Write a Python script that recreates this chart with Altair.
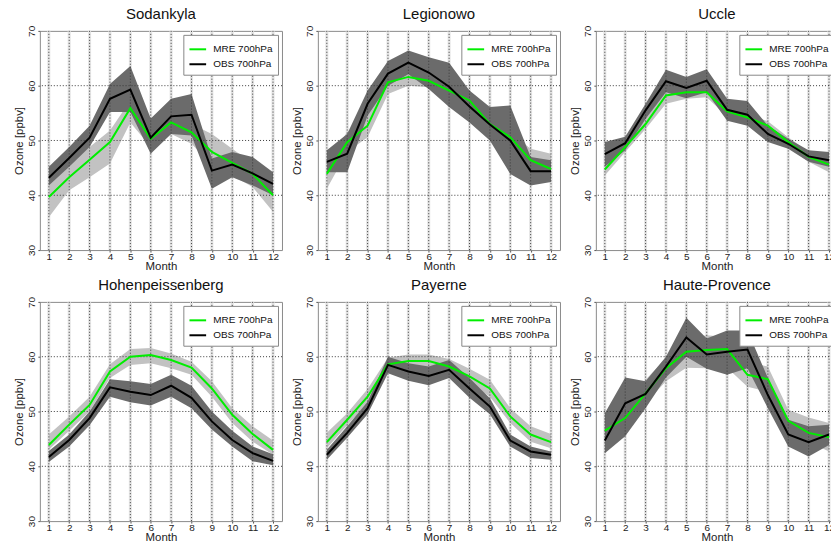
import altair as alt
import pandas as pd

months = list(range(1, 13))

stations = ["Sodankyla", "Legionowo", "Uccle", "Hohenpeissenberg", "Payerne", "Haute-Provence"]
series_names = ["MRE 700hPa", "OBS 700hPa"]

# Sodankyla
sod_obs = [43.2, 46.8, 50.5, 57.6, 59.3, 50.5, 54.4, 54.7, 44.5, 45.6, 44.0, 42.1]
sod_obs_hi = [45.2, 48.8, 52.7, 60.3, 63.6, 54.0, 57.6, 58.5, 46.7, 47.9, 47.0, 44.2]
sod_obs_lo = [41.8, 45.2, 48.8, 55.2, 55.2, 47.6, 51.2, 50.9, 41.2, 43.3, 41.8, 40.0]
sod_mre = [39.7, 43.3, 46.5, 49.7, 55.9, 50.3, 53.3, 51.5, 47.9, 45.9, 43.9, 40.0]
sod_mre_hi = [42.4, 45.8, 48.8, 51.8, 57.3, 51.8, 54.5, 53.0, 51.2, 48.5, 45.8, 41.8]
sod_mre_lo = [36.0, 40.9, 43.3, 45.8, 53.3, 48.8, 51.2, 49.4, 45.5, 43.6, 41.5, 37.0]

# Legionowo
leg_obs = [46.1, 47.6, 56.7, 62.2, 64.2, 62.4, 59.8, 56.2, 52.9, 50.0, 44.4, 44.4]
leg_obs_hi = [48.2, 51.2, 59.1, 64.5, 66.4, 65.2, 64.2, 59.1, 56.1, 56.4, 47.0, 46.4]
leg_obs_lo = [44.2, 44.2, 54.5, 60.0, 62.1, 59.4, 56.1, 53.3, 50.0, 43.9, 41.8, 42.4]
leg_mre = [43.9, 49.7, 52.7, 60.6, 61.6, 60.9, 59.1, 57.3, 53.0, 50.6, 46.4, 44.8]
leg_mre_hi = [46.4, 51.5, 54.5, 61.5, 62.1, 61.8, 60.0, 58.2, 53.9, 51.5, 48.5, 47.6]
leg_mre_lo = [41.2, 47.9, 50.6, 58.5, 60.0, 59.7, 57.9, 56.1, 51.5, 49.4, 44.5, 43.0]

# Uccle
ucc_obs = [47.5, 49.5, 55.5, 60.8, 59.6, 60.9, 55.6, 54.7, 51.2, 49.4, 47.1, 46.4]
ucc_obs_hi = [49.7, 50.7, 56.7, 62.9, 61.6, 63.0, 57.6, 57.2, 52.7, 50.3, 48.2, 47.9]
ucc_obs_lo = [45.2, 48.2, 53.9, 58.8, 57.7, 58.8, 53.6, 52.7, 49.7, 48.5, 46.1, 45.2]
ucc_mre = [44.7, 48.8, 53.0, 58.2, 58.8, 58.8, 55.3, 54.2, 52.7, 49.7, 47.0, 45.6]
ucc_mre_hi = [45.8, 49.7, 53.9, 59.1, 59.6, 59.6, 56.1, 54.8, 53.5, 50.6, 47.9, 46.5]
ucc_mre_lo = [43.6, 47.9, 52.1, 56.7, 57.6, 57.9, 54.4, 53.3, 51.8, 48.8, 46.1, 44.2]

# Hohenpeissenberg
hoh_obs = [41.7, 44.8, 48.8, 54.4, 53.6, 53.0, 54.7, 52.5, 48.2, 44.8, 42.4, 41.0]
hoh_obs_hi = [42.8, 45.8, 50.0, 55.9, 55.5, 55.0, 56.7, 54.7, 50.0, 46.5, 43.6, 42.2]
hoh_obs_lo = [40.8, 43.6, 47.5, 52.7, 51.7, 51.1, 52.7, 50.6, 46.7, 43.6, 40.9, 40.2]
hoh_mre = [43.9, 47.6, 51.2, 57.3, 60.0, 60.3, 59.4, 58.0, 54.2, 49.4, 45.9, 43.0]
hoh_mre_hi = [45.8, 49.1, 52.7, 58.6, 61.4, 61.6, 60.6, 59.1, 55.5, 50.6, 47.3, 44.7]
hoh_mre_lo = [43.0, 46.5, 50.0, 56.1, 58.5, 58.8, 57.9, 56.7, 52.7, 47.9, 44.5, 42.1]

# Payerne
pay_obs = [42.1, 46.1, 50.6, 58.5, 57.3, 56.5, 57.6, 54.2, 50.9, 44.7, 42.7, 42.1]
pay_obs_hi = [43.0, 47.3, 51.8, 60.0, 58.8, 58.2, 59.4, 56.1, 52.4, 45.8, 43.6, 42.7]
pay_obs_lo = [41.2, 45.2, 49.5, 57.0, 55.6, 54.8, 56.1, 52.5, 49.5, 43.6, 41.5, 41.2]
pay_mre = [44.4, 48.5, 52.7, 58.6, 59.2, 59.2, 58.2, 56.4, 54.2, 49.1, 45.8, 44.4]
pay_mre_hi = [46.1, 49.7, 54.1, 59.8, 60.4, 60.4, 59.6, 57.8, 55.8, 50.6, 47.3, 45.9]
pay_mre_lo = [43.3, 47.5, 51.5, 57.3, 57.9, 57.9, 57.0, 55.2, 52.7, 47.9, 44.5, 43.3]

# Haute-Provence
hau_obs = [44.7, 51.5, 53.2, 58.2, 63.5, 60.4, 60.9, 61.3, 53.0, 45.8, 44.4, 45.8]
hau_obs_hi = [49.7, 56.2, 55.5, 60.0, 67.1, 63.3, 64.8, 64.8, 56.1, 48.5, 47.3, 47.6]
hau_obs_lo = [42.4, 45.5, 50.6, 56.2, 60.0, 57.8, 56.7, 57.9, 50.6, 43.6, 41.8, 43.9]
hau_mre = [46.5, 48.8, 53.3, 57.9, 60.9, 61.2, 61.4, 56.7, 55.9, 48.3, 46.1, 45.3]
hau_mre_hi = [48.3, 50.6, 55.8, 59.7, 63.3, 63.9, 63.6, 59.1, 58.2, 50.3, 48.9, 47.9]
hau_mre_lo = [44.8, 47.0, 51.5, 55.5, 58.0, 57.9, 58.0, 54.5, 53.6, 46.4, 44.5, 42.7]

station_data = {
    "Sodankyla": (sod_obs, sod_obs_lo, sod_obs_hi, sod_mre, sod_mre_lo, sod_mre_hi),
    "Legionowo": (leg_obs, leg_obs_lo, leg_obs_hi, leg_mre, leg_mre_lo, leg_mre_hi),
    "Uccle": (ucc_obs, ucc_obs_lo, ucc_obs_hi, ucc_mre, ucc_mre_lo, ucc_mre_hi),
    "Hohenpeissenberg": (hoh_obs, hoh_obs_lo, hoh_obs_hi, hoh_mre, hoh_mre_lo, hoh_mre_hi),
    "Payerne": (pay_obs, pay_obs_lo, pay_obs_hi, pay_mre, pay_mre_lo, pay_mre_hi),
    "Haute-Provence": (hau_obs, hau_obs_lo, hau_obs_hi, hau_mre, hau_mre_lo, hau_mre_hi),
}

y_ticks = [30, 40, 50, 60, 70]
y_grid = [40, 50, 60]

FONT = "Liberation Sans"
W, H = 243, 220

x_scale = alt.Scale(domain=[0.56, 12.44], nice=False, zero=False)
y_scale = alt.Scale(domain=[30, 70], nice=False, zero=False)

x_axis = alt.Axis(values=months, title="Month", grid=False, domain=False, tickSize=2,
                  tickColor="#555", labelPadding=-1, labelFontSize=10, labelFont=FONT,
                  labelColor="#222", labelOverlap=False, labelFlush=False,
                  titleFont=FONT, titleFontSize=11.5, titleFontWeight="normal",
                  titleColor="#222", titlePadding=-1)
y_axis = alt.Axis(values=y_ticks, title="Ozone [ppbv]", grid=False, domain=False, tickSize=2,
                  tickColor="#555", labelPadding=1, labelFontSize=10, labelFont=FONT,
                  labelColor="#222", labelAngle=270, labelAlign="center",
                  labelBaseline="bottom", labelOverlap=False, labelFlush=False,
                  titleFont=FONT, titleFontSize=11.5, titleFontWeight="normal",
                  titleColor="#222", titlePadding=2)


def panel(name):
    obs, obs_lo, obs_hi, mre, mre_lo, mre_hi = station_data[name]
    df = pd.DataFrame({"month": months, "obs": obs, "obs_lo": obs_lo, "obs_hi": obs_hi,
                       "mre": mre, "mre_lo": mre_lo, "mre_hi": mre_hi})
    long_df = pd.DataFrame({
        "month": months + months,
        "value": mre + obs,
        "series": [series_names[0]] * 12 + [series_names[1]] * 12,
    })
    xg = pd.DataFrame({"month": months})
    yg = pd.DataFrame({"v": y_grid})

    X = alt.X("month:Q", scale=x_scale, axis=x_axis)
    base = alt.Chart(df)
    strips = alt.Chart(xg).mark_rule(color="#e4e4e4", strokeWidth=3).encode(
        x=alt.X("month:Q", scale=x_scale, axis=x_axis))
    light = base.mark_area(color="#c2c2c2", opacity=1).encode(
        x=X, y=alt.Y("mre_lo:Q", scale=y_scale, axis=y_axis), y2="mre_hi:Q")
    dark = base.mark_area(color="#6b6b6b", opacity=1).encode(
        x=X, y=alt.Y("obs_lo:Q", scale=y_scale, axis=y_axis), y2="obs_hi:Q")
    gx = alt.Chart(xg).mark_rule(color="#3a3a3a", strokeWidth=1, strokeDash=[1, 2]).encode(
        x=alt.X("month:Q", scale=x_scale, axis=x_axis))
    gy = alt.Chart(yg).mark_rule(color="#3a3a3a", strokeWidth=1, strokeDash=[1, 2]).encode(
        y=alt.Y("v:Q", scale=y_scale, axis=y_axis))
    lines = alt.Chart(long_df).mark_line(strokeWidth=2).encode(
        x=X,
        y=alt.Y("value:Q", scale=y_scale, axis=y_axis),
        color=alt.Color("series:N",
                        scale=alt.Scale(domain=series_names, range=["#00ee00", "#000000"]),
                        legend=alt.Legend(title=None, orient="top-right", offset=4,
                                          fillColor="white", strokeColor="#888",
                                          padding=5, symbolType="stroke",
                                          symbolSize=280, symbolStrokeWidth=2,
                                          labelFont=FONT, labelFontSize=10,
                                          labelColor="#111", labelOffset=6,
                                          rowPadding=-6, cornerRadius=0)),
        order=alt.Order("series:N"),
    )
    return alt.layer(strips, light, dark, gx, gy, lines).properties(
        width=W, height=H,
        title=alt.TitleParams(name, font=FONT, fontSize=15, fontWeight="normal",
                              color="#111", anchor="middle", offset=3),
    )


chart = alt.concat(*[panel(s) for s in stations], columns=3,
                   spacing={"row": 5, "column": 8}).resolve_legend(
    color="independent"
).properties(
    padding={"left": 13, "top": 5, "right": -8, "bottom": 0}
).configure_view(stroke="#8a8a8a", strokeWidth=1)

chart.save("out.html", embed_options={"renderer": "svg", "actions": False})
